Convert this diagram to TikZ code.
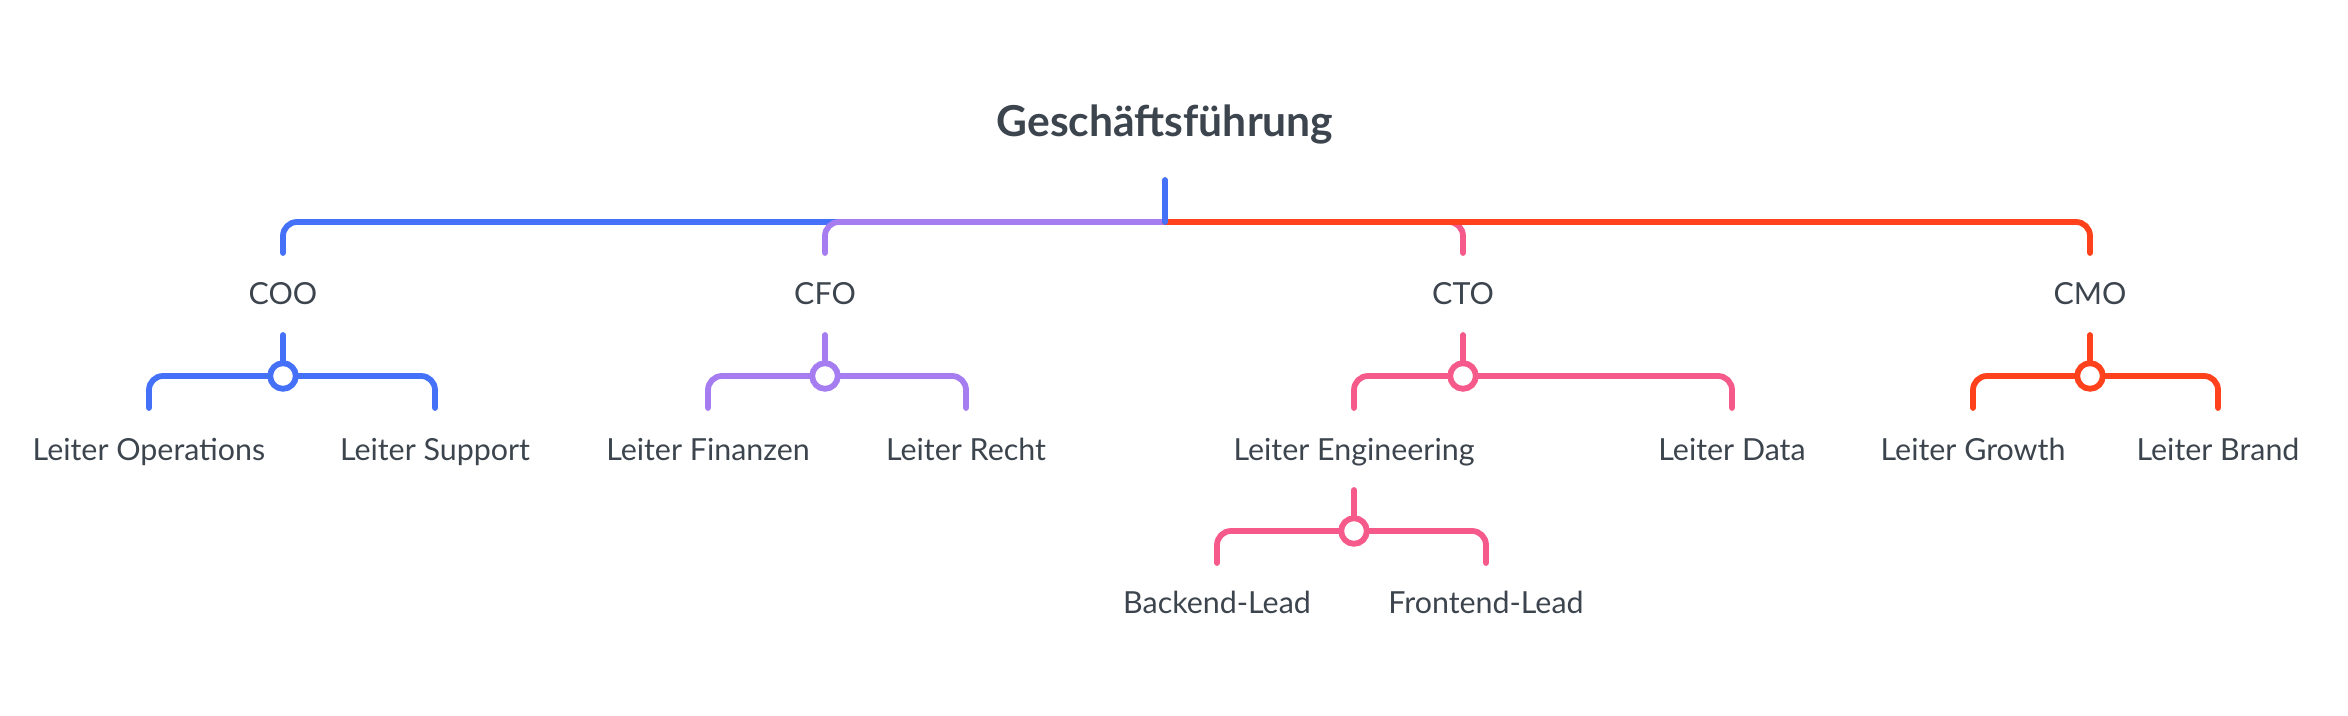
\documentclass[tikz,border=0pt]{standalone}
\usepackage{fontspec}
\setmainfont{Lato}
\usetikzlibrary{calc}

\definecolor{ink}{HTML}{3C444D}
\definecolor{cblue}{HTML}{4471F8}
\definecolor{cpurple}{HTML}{A67DF0}
\definecolor{cpink}{HTML}{F65A8B}
\definecolor{cred}{HTML}{FF421B}

\tikzset{
	edge/.style={line width=2.9pt, line cap=round, rounded corners=7pt},
	hub/.style={line width=2.9pt, fill=white},
	namelabel/.style={text=ink, inner sep=0pt, anchor=base, font=\fontsize{15.2}{17}\selectfont},
	toplabel/.style={text=ink, inner sep=0pt, anchor=base, font=\fontsize{21.3}{25}\selectfont\bfseries},
}

\begin{document}
\begin{tikzpicture}[x=0.5pt,y=-0.5pt]

	\useasboundingbox (0,0) rectangle (2348,716);

% labels %{{{2

	\node[toplabel] (gf) at (1165,137) {Geschäftsführung};

	\node[namelabel] (coo) at (283,305) {COO};
	\node[namelabel] (cfo) at (825,305) {CFO};
	\node[namelabel] (cto) at (1463,305) {CTO};
	\node[namelabel] (cmo) at (2090,305) {CMO};

	\node[namelabel] (ops) at (149,460) {Leiter Operations};
	\node[namelabel] (sup) at (435,460) {Leiter Support};
	\node[namelabel] (fin) at (708,460) {Leiter Finanzen};
	\node[namelabel] (rec) at (966,460) {Leiter Recht};
	\node[namelabel] (eng) at (1354,460) {Leiter Engineering};
	\node[namelabel] (dat) at (1732,460) {Leiter Data};
	\node[namelabel] (gro) at (1973,460) {Leiter Growth};
	\node[namelabel] (bra) at (2218,460) {Leiter Brand};

	\node[namelabel] (bac) at (1217,613) {Backend-Lead};
	\node[namelabel] (fro) at (1486,613) {Frontend-Lead};

% coordinate %{{{2

	\coordinate (gf-out) at (1165,180);
	\coordinate (gf-bar) at (1165,222);

	\coordinate (coo-in) at (283,253);
	\coordinate (cfo-in) at (825,253);
	\coordinate (cto-in) at (1463,253);
	\coordinate (cmo-in) at (2090,253);

	\coordinate (coo-out) at (283,335);
	\coordinate (cfo-out) at (825,335);
	\coordinate (cto-out) at (1463,335);
	\coordinate (cmo-out) at (2090,335);

	\coordinate (coo-hub) at (283,376);
	\coordinate (cfo-hub) at (825,376);
	\coordinate (cto-hub) at (1463,376);
	\coordinate (cmo-hub) at (2090,376);

	\coordinate (ops-in) at (149,408);
	\coordinate (sup-in) at (435,408);
	\coordinate (fin-in) at (708,408);
	\coordinate (rec-in) at (966,408);
	\coordinate (eng-in) at (1354,408);
	\coordinate (dat-in) at (1732,408);
	\coordinate (gro-in) at (1973,408);
	\coordinate (bra-in) at (2218,408);

	\coordinate (eng-out) at (1354,490);
	\coordinate (eng-hub) at (1354,531);
	\coordinate (bac-in) at (1217,563);
	\coordinate (fro-in) at (1486,563);

% first level branches %{{{2

	\draw[edge, cblue] (gf-bar) -| (coo-in);
	\draw[edge, cpurple] (gf-bar) -| (cfo-in);
	\draw[edge, cpink] (gf-bar) -| (cto-in);
	\draw[edge, cred] (gf-bar) -| (cmo-in);
	\draw[edge, cblue] (gf-out) -- (gf-bar);

% second level branches %{{{2

	\draw[edge, cblue] (coo-out) -- (coo-hub);
	\draw[edge, cblue] (coo-hub) -| (ops-in);
	\draw[edge, cblue] (coo-hub) -| (sup-in);
	\draw[hub, draw=cblue] (coo-hub) circle (6.4pt);

	\draw[edge, cpurple] (cfo-out) -- (cfo-hub);
	\draw[edge, cpurple] (cfo-hub) -| (fin-in);
	\draw[edge, cpurple] (cfo-hub) -| (rec-in);
	\draw[hub, draw=cpurple] (cfo-hub) circle (6.4pt);

	\draw[edge, cpink] (cto-out) -- (cto-hub);
	\draw[edge, cpink] (cto-hub) -| (eng-in);
	\draw[edge, cpink] (cto-hub) -| (dat-in);
	\draw[hub, draw=cpink] (cto-hub) circle (6.4pt);

	\draw[edge, cred] (cmo-out) -- (cmo-hub);
	\draw[edge, cred] (cmo-hub) -| (gro-in);
	\draw[edge, cred] (cmo-hub) -| (bra-in);
	\draw[hub, draw=cred] (cmo-hub) circle (6.4pt);

% third level branches %{{{2

	\draw[edge, cpink] (eng-out) -- (eng-hub);
	\draw[edge, cpink] (eng-hub) -| (bac-in);
	\draw[edge, cpink] (eng-hub) -| (fro-in);
	\draw[hub, draw=cpink] (eng-hub) circle (6.4pt);

\end{tikzpicture}
\end{document}
